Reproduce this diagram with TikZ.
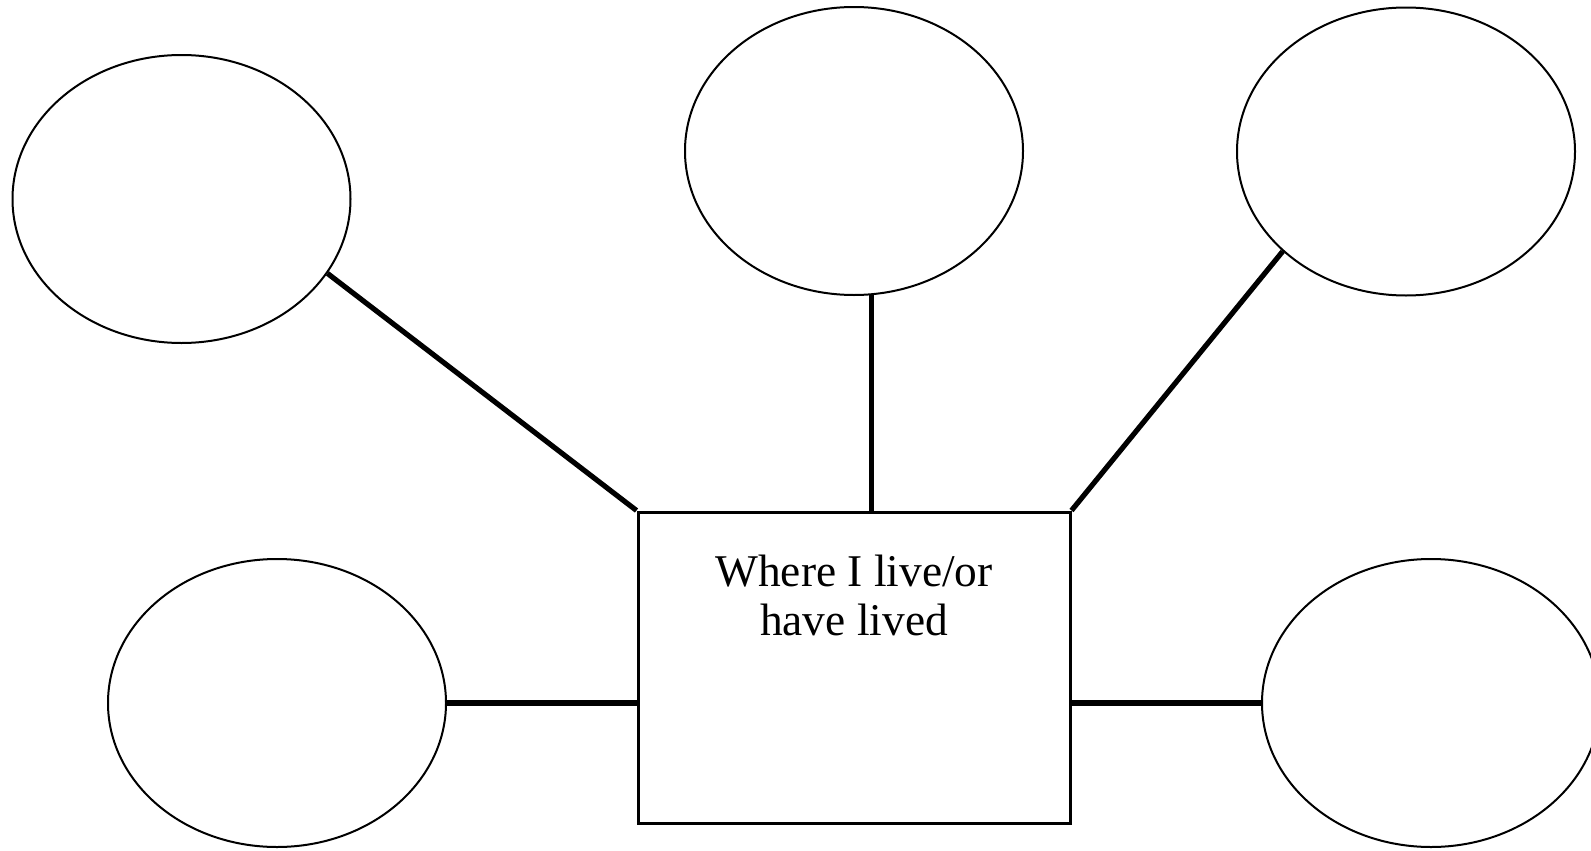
\documentclass[tikz,border=0pt]{standalone}
\usepackage{fontspec}
\setmainfont{Liberation Serif}
\usetikzlibrary{positioning,shapes.geometric}

\begin{document}
\begin{tikzpicture}[
  x=0.5pt,y=-0.5pt,
  bubble/.style={draw,ellipse,line width=1pt,minimum width=169pt,minimum height=144pt,inner sep=0pt},
  centre/.style={draw,rectangle,line width=1.5pt,minimum width=216pt,minimum height=155.5pt,inner sep=0pt},
  lbl/.style={align=center,inner sep=0pt,font=\fontsize{22.7}{24.5}\selectfont},
  link/.style={line width=2.6pt}
]
\useasboundingbox (0,0) rectangle (1591,851);
\node[centre] (box) at (854,667.5) {};
\node[lbl,below=22pt of box.north] (title) {Where I live/or\\have lived};
\node[bubble] (tl) at (181.5,199) {};
\node[bubble] (tm) at (854,151) {};
\node[bubble] (tr) at (1406,151.5) {};
\node[bubble] (bl) at (277,703) {};
\node[bubble] (br) at (1431,703) {};
\draw[link] (tl.-27) -- (box.north west);
\draw[link] (tm.-83) -- (tm.-83 |- box.north);
\draw[link] (tr.-141) -- (box.north east);
\draw[link] (bl.east) -- (bl.east -| box.west);
\draw[link] (br.west) -- (br.west -| box.east);
\end{tikzpicture}
\end{document}
